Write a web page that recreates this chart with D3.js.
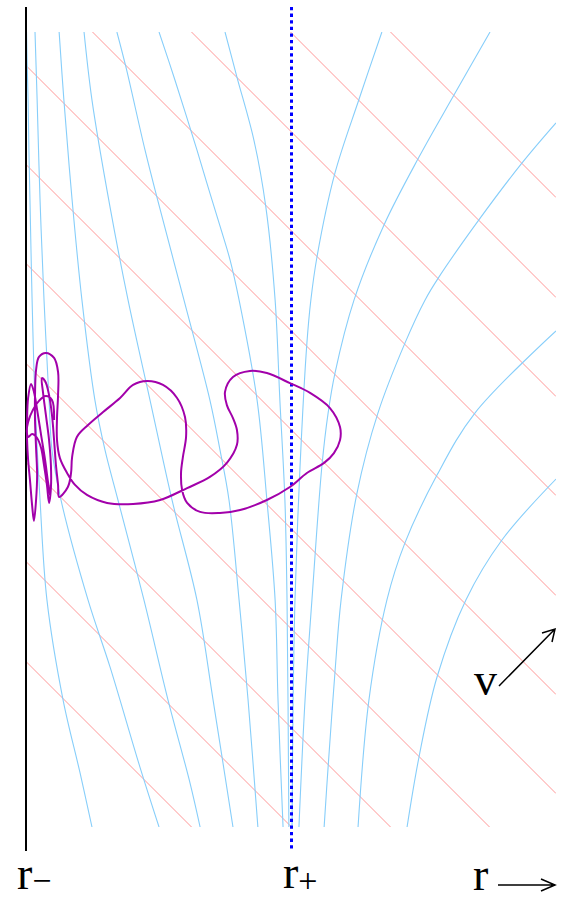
<!DOCTYPE html>
<html lang="en">
<head>
    <meta charset="UTF-8">
    <title>Inner horizon diagram</title>
    <script src="https://d3js.org/d3.v7.min.js"></script>
    <style>
        body { margin: 0; background: #fff; }
        text { font-family: "Liberation Serif", "Times New Roman", serif; fill: #000; }
    </style>
</head>
<body>
<div id="chart"></div>
<script>
    // r runs from r- (0) through r+ (1) to the right edge (2); t runs downward 0..3
    var rDomain = [0, 2];
    var tDomain = [0, 3];
    var horizons = [0, 1];

    // lines of constant v, given as t - r
    var vLines = [-1.375, -1.0, -0.625, -0.25, 0.125, 0.5, 0.875, 1.25, 1.625, 2.0, 2.375];

    // curves of constant t between r- and r+, points are [r, t]
    var left0 = [[0.002, 0], [0.004, 0.106], [0.008, 0.257], [0.011, 0.445], [0.015, 0.634], [0.023, 1.011], [0.034, 1.389], [0.053, 1.766], [0.079, 2.143], [0.140, 2.521], [0.204, 2.796], [0.249, 3.0]];
    var left1 = [[0.034, 0], [0.042, 0.257], [0.053, 0.634], [0.068, 1.011], [0.087, 1.389], [0.098, 1.577], [0.132, 1.766], [0.234, 2.143], [0.317, 2.396], [0.430, 2.774], [0.502, 3.0]];
    var left2 = [[0.125, 0], [0.143, 0.257], [0.174, 0.634], [0.211, 1.011], [0.260, 1.389], [0.298, 1.577], [0.347, 1.766], [0.445, 2.143], [0.536, 2.521], [0.619, 2.834], [0.657, 3.0]];
    var left3 = [[0.219, 0], [0.249, 0.257], [0.317, 0.660], [0.385, 1.011], [0.468, 1.389], [0.551, 1.766], [0.645, 2.143], [0.706, 2.521], [0.781, 3.0]];
    var left4 = [[0.343, 0], [0.377, 0.132], [0.449, 0.445], [0.494, 0.623], [0.596, 1.011], [0.694, 1.389], [0.732, 1.577], [0.766, 1.766], [0.804, 2.143], [0.838, 2.521], [0.875, 3.0]];
    var left5 = [[0.502, 0], [0.562, 0.181], [0.645, 0.445], [0.694, 0.608], [0.740, 0.758], [0.770, 0.860], [0.804, 1.011], [0.872, 1.389], [0.909, 1.766], [0.940, 2.143], [0.951, 2.521], [0.970, 3.0]];
    var left6 = [[0.751, 0], [0.796, 0.170], [0.860, 0.408], [0.905, 0.660], [0.940, 1.011], [0.958, 1.389], [0.977, 1.766], [0.985, 2.143], [0.992, 3.0]];

    // curves of constant t outside r+
    var right1 = [[1.343, 0], [1.257, 0.253], [1.166, 0.532], [1.098, 0.849], [1.075, 1.011], [1.060, 1.174], [1.034, 1.642], [1.015, 2.143], [1.008, 2.521], [1.004, 3.0]];
    var right2 = [[1.751, 0], [1.615, 0.238], [1.483, 0.472], [1.351, 0.728], [1.238, 1.011], [1.166, 1.287], [1.140, 1.438], [1.117, 1.634], [1.079, 2.143], [1.053, 2.521], [1.030, 3.0]];
    var right3 = [[2.0, 0.343], [1.872, 0.494], [1.709, 0.709], [1.558, 0.925], [1.506, 1.011], [1.430, 1.174], [1.328, 1.438], [1.249, 1.740], [1.189, 2.143], [1.166, 2.415], [1.140, 2.774], [1.125, 3.0]];
    var right4 = [[2.0, 1.128], [1.694, 1.438], [1.551, 1.672], [1.430, 1.928], [1.362, 2.143], [1.294, 2.521], [1.253, 3.0]];
    var right5 = [[2.0, 1.687], [1.796, 1.917], [1.660, 2.143], [1.551, 2.434], [1.483, 2.736], [1.438, 3.0]];

    // the orbit, points are [r, t]
    var orbit = [
        [0.106, 1.464], [0.098, 1.389], [0.075, 1.374], [0.049, 1.392], [0.026, 1.426], [0.008, 1.472], [0.003, 1.509],
        [0.009, 1.528], [0.023, 1.517], [0.042, 1.532], [0.057, 1.570], [0.068, 1.634], [0.079, 1.709], [0.087, 1.777],
        [0.094, 1.721], [0.094, 1.634], [0.087, 1.540], [0.075, 1.445], [0.064, 1.358], [0.060, 1.306], [0.072, 1.317],
        [0.087, 1.370], [0.098, 1.445], [0.106, 1.540], [0.113, 1.634], [0.121, 1.709], [0.125, 1.755],
        [0.158, 1.717], [0.170, 1.664], [0.174, 1.604], [0.192, 1.528], [0.234, 1.483], [0.291, 1.434], [0.355, 1.381],
        [0.404, 1.332], [0.457, 1.317], [0.517, 1.332], [0.570, 1.381], [0.600, 1.453], [0.604, 1.528], [0.592, 1.604],
        [0.585, 1.664], [0.589, 1.728], [0.608, 1.777], [0.657, 1.811], [0.732, 1.815], [0.808, 1.804], [0.909, 1.766],
        [0.996, 1.717], [1.060, 1.664], [1.125, 1.626], [1.162, 1.589], [1.185, 1.540], [1.185, 1.491], [1.147, 1.419],
        [1.072, 1.362], [0.996, 1.325], [0.909, 1.287], [0.845, 1.279], [0.781, 1.302], [0.751, 1.358], [0.758, 1.408],
        [0.781, 1.457], [0.796, 1.502], [0.796, 1.558], [0.758, 1.626], [0.694, 1.679], [0.608, 1.721], [0.506, 1.766],
        [0.404, 1.781], [0.306, 1.777], [0.230, 1.747], [0.185, 1.709], [0.155, 1.664], [0.128, 1.608], [0.117, 1.540],
        [0.117, 1.457], [0.121, 1.370], [0.121, 1.283], [0.106, 1.230], [0.075, 1.211], [0.049, 1.226], [0.038, 1.275],
        [0.034, 1.370], [0.034, 1.464], [0.038, 1.570], [0.042, 1.672], [0.038, 1.766], [0.030, 1.845], [0.023, 1.785],
        [0.015, 1.691], [0.008, 1.615], [0.004, 1.540], [0.004, 1.464], [0.008, 1.381], [0.019, 1.328], [0.030, 1.358],
        [0.042, 1.426], [0.057, 1.521], [0.072, 1.615], [0.083, 1.698], [0.091, 1.747]
    ];

    var tCurves = [left0, left1, left2, left3, left4, left5, left6, right1, right2, right3, right4, right5];

    var width = 567, height = 900;

    var x = d3.scaleLinear().domain(rDomain).range([26, 556]);
    var y = d3.scaleLinear().domain(tDomain).range([32, 827]);

    var svg = d3.select("#chart")
        .append("svg")
        .attr("width", width)
        .attr("height", height);

    svg.append("clipPath")
        .attr("id", "box")
        .append("rect")
        .attr("x", x(rDomain[0]))
        .attr("y", y(tDomain[0]))
        .attr("width", x(rDomain[1]) - x(rDomain[0]))
        .attr("height", y(tDomain[1]) - y(tDomain[0]));

    var grid = svg.append("g").attr("clip-path", "url(#box)");

    // v = const, 45 degree lines (snapped to half pixels so they all render alike)
    function vStart(d) { return Math.floor(y(d + rDomain[0])) + 0.5; }
    grid.selectAll(".vline")
        .data(vLines)
        .enter().append("line")
        .attr("class", "vline")
        .attr("x1", x(rDomain[0]))
        .attr("y1", vStart)
        .attr("x2", x(rDomain[1]))
        .attr("y2", function(d) { return vStart(d) + x(rDomain[1]) - x(rDomain[0]); })
        .attr("stroke", "#ff9898")
        .attr("stroke-width", 1);

    var line = d3.line()
        .x(function(d) { return x(d[0]); })
        .y(function(d) { return y(d[1]); })
        .curve(d3.curveCatmullRom.alpha(0.5));

    // t = const curves
    grid.selectAll(".tcurve")
        .data(tCurves)
        .enter().append("path")
        .attr("class", "tcurve")
        .attr("d", line)
        .attr("fill", "none")
        .attr("stroke", "#87cefa")
        .attr("stroke-width", 1.1);

    // r- (solid) and r+ (dotted)
    var lineTop = 7, lineBottom = 851;
    svg.append("line")
        .attr("x1", x(horizons[0])).attr("x2", x(horizons[0]))
        .attr("y1", lineTop).attr("y2", lineBottom)
        .attr("stroke", "#000")
        .attr("stroke-width", 2);

    svg.append("line")
        .attr("x1", x(horizons[1]) + 0.5).attr("x2", x(horizons[1]) + 0.5)
        .attr("y1", lineTop).attr("y2", lineBottom)
        .attr("stroke", "#0000ff")
        .attr("stroke-width", 3)
        .attr("stroke-dasharray", "3.3,3.3");

    // orbit
    svg.append("path")
        .datum(orbit)
        .attr("d", line)
        .attr("fill", "none")
        .attr("stroke", "#a200aa")
        .attr("stroke-width", 2);

    // labels
    var minusLabel = svg.append("text")
        .attr("x", 17).attr("y", 889)
        .style("font-size", "46px");
    minusLabel.append("tspan").text("r");
    minusLabel.append("tspan").attr("dy", 3).style("font-size", "34px").text("\u2212");

    var plusLabel = svg.append("text")
        .attr("x", 283).attr("y", 888)
        .style("font-size", "46px");
    plusLabel.append("tspan").text("r");
    plusLabel.append("tspan").attr("dy", 4).style("font-size", "34px").text("+");

    svg.append("text")
        .attr("x", 473).attr("y", 890)
        .style("font-size", "46px")
        .text("r");

    svg.append("text")
        .attr("x", 474).attr("y", 695)
        .style("font-size", "46px")
        .text("v");

    // arrows next to r and v
    svg.append("path")
        .attr("d", "M498,885H555M541,879L555,885L541,891")
        .attr("fill", "none")
        .attr("stroke", "#000")
        .attr("stroke-width", 1.5);

    svg.append("path")
        .attr("d", "M499,686L555,629M542,633L555,629L552,642")
        .attr("fill", "none")
        .attr("stroke", "#000")
        .attr("stroke-width", 1.5);
</script>
</body>
</html>
